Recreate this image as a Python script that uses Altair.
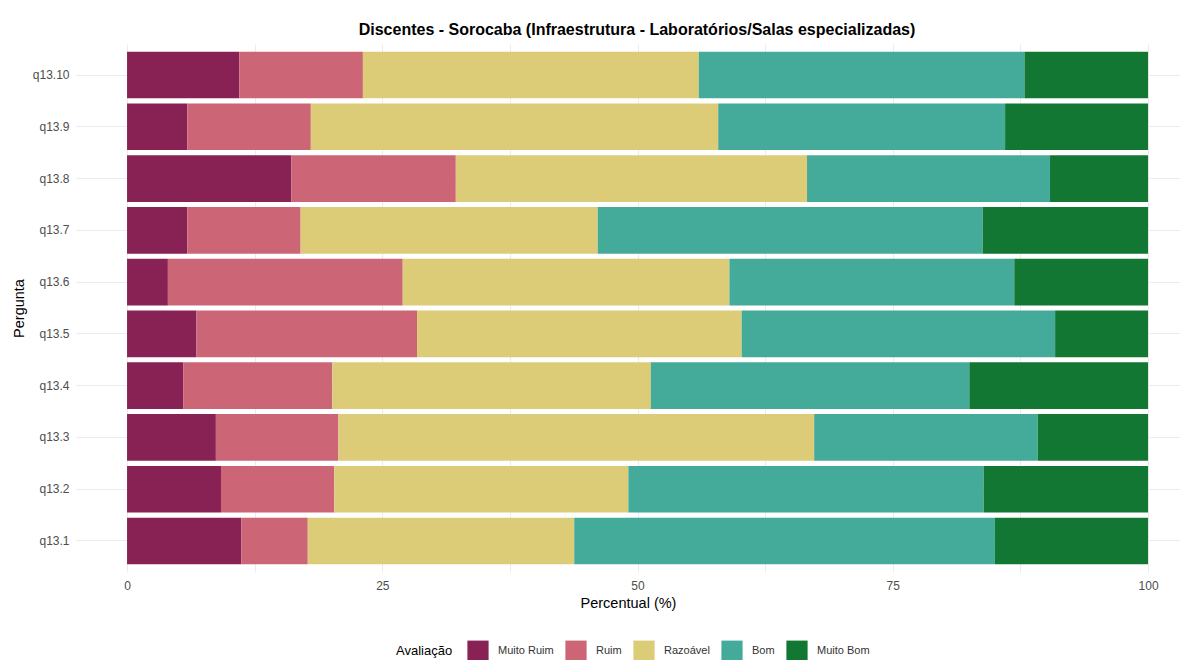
import altair as alt
import pandas as pd

questions = ["q13.1", "q13.2", "q13.3", "q13.4", "q13.5",
             "q13.6", "q13.7", "q13.8", "q13.9", "q13.10"]
levels = ["Muito Ruim", "Ruim", "Razoável", "Bom", "Muito Bom"]
colors = ["#882255", "#CC6677", "#DDCC77", "#44AA99", "#117733"]

muito_ruim = [11.2, 9.2, 8.7, 5.5, 6.8, 4.0, 5.9, 16.1, 5.9, 11.0]
ruim       = [6.5, 11.1, 12.0, 14.6, 21.6, 23.0, 11.1, 16.1, 12.1, 12.1]
razoavel   = [26.1, 28.8, 46.6, 31.2, 31.8, 32.0, 29.1, 34.4, 39.9, 32.9]
bom        = [41.2, 34.8, 21.9, 31.2, 30.7, 27.9, 37.7, 23.8, 28.1, 31.9]
muito_bom  = [15.0, 16.1, 10.8, 17.5, 9.1, 13.1, 16.2, 9.6, 14.0, 12.1]

series = [muito_ruim, ruim, razoavel, bom, muito_bom]
rows = []
for li, (lvl, vals) in enumerate(zip(levels, series)):
    for q, v in zip(questions, vals):
        rows.append({"Pergunta": q, "Avaliação": lvl, "Percentual": v, "ordem": li})
df = pd.DataFrame(rows)

font = "Arial, Liberation Sans, sans-serif"
grid_vals = [0, 12.5, 25, 37.5, 50, 62.5, 75, 87.5, 100]

chart = alt.Chart(df).mark_bar().encode(
    x=alt.X("Percentual:Q", stack="zero",
            scale=alt.Scale(domain=[-5, 103.13], nice=False, zero=False),
            axis=alt.Axis(title="Percentual (%)", values=grid_vals,
                          labelExpr="datum.value % 25 === 0 ? datum.label : ''",
                          grid=True, gridColor="#EBEBEB", gridWidth=1,
                          domain=False, ticks=False, labelPadding=8,
                          labelFontSize=12, labelColor="#4D4D4D", labelFont=font,
                          titleFontSize=14.5, titleFont=font, titleColor="#000000",
                          titleFontWeight="normal", titlePadding=5)),
    y=alt.Y("Pergunta:N", sort=list(reversed(questions)),
            scale=alt.Scale(paddingInner=0.1, paddingOuter=0.15),
            axis=alt.Axis(title="Pergunta", grid=True, gridColor="#EBEBEB",
                          bandPosition=0.5, tickExtra=False, domain=False, ticks=False,
                          labelPadding=7, labelFontSize=12, labelColor="#4D4D4D",
                          labelFont=font, titleFontSize=14.5, titleFont=font,
                          titleColor="#000000", titleFontWeight="normal",
                          titlePadding=6)),
    color=alt.Color("Avaliação:N",
                    scale=alt.Scale(domain=levels, range=colors),
                    legend=alt.Legend(orient="none", direction="horizontal",
                                      legendX=320, legendY=596,
                                      titleOrient="left", title="Avaliação",
                                      titleFontSize=13, titleFont=font,
                                      titleFontWeight="normal", titleColor="#000000",
                                      titlePadding=14,
                                      symbolType="square", symbolSize=450,
                                      symbolStrokeWidth=0, symbolOpacity=1,
                                      labelFontSize=11, labelFont=font,
                                      labelColor="#333333", labelOffset=9,
                                      columnPadding=11)),
    order=alt.Order("ordem:Q", sort="ascending"),
).properties(
    width=1104, height=528,
    title=alt.TitleParams(
        "Discentes - Sorocaba (Infraestrutura - Laboratórios/Salas especializadas)",
        fontSize=16, font=font, fontWeight="bold", color="#000000",
        anchor="middle", dx=9, offset=6),
    padding={"left": 68, "top": 36, "right": 0, "bottom": 88},
    autosize=alt.AutoSizeParams(type="none"),
    background="white",
).configure_view(strokeWidth=0, stroke=None)

chart.save("out.html", embed_options={"renderer": "svg", "actions": False})
